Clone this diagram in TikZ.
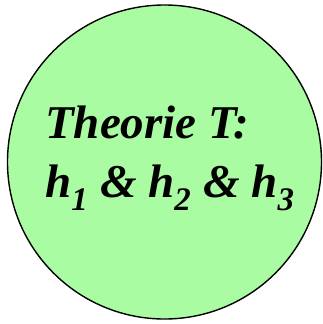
\documentclass[tikz,border=0pt]{standalone}
\usepackage{fontspec}
\setmainfont{Liberation Serif}
\usepackage{tikz}
\definecolor{theorygreen}{HTML}{AAFCA2}
\definecolor{ink}{HTML}{000000}
\tikzset{
  theorydisc/.style={circle,draw=ink,line width=1.4pt,fill=theorygreen,minimum size=314pt,inner sep=0pt},
  theorytext/.style={align=left,inner sep=0pt,font=\fontsize{47}{59}\selectfont\bfseries\itshape}
}

\begin{document}
\begin{tikzpicture}[x=1pt,y=-1pt]
 \useasboundingbox (0,0) rectangle (323,324);
 \node[theorydisc] (theory) at (164.5,162) {};
 \node[theorytext,anchor=base west] (claim) at (45,197) {Theorie T:\\h\textsubscript{1} \& h\textsubscript{2} \& h\textsubscript{3}};
\end{tikzpicture}
\end{document}
